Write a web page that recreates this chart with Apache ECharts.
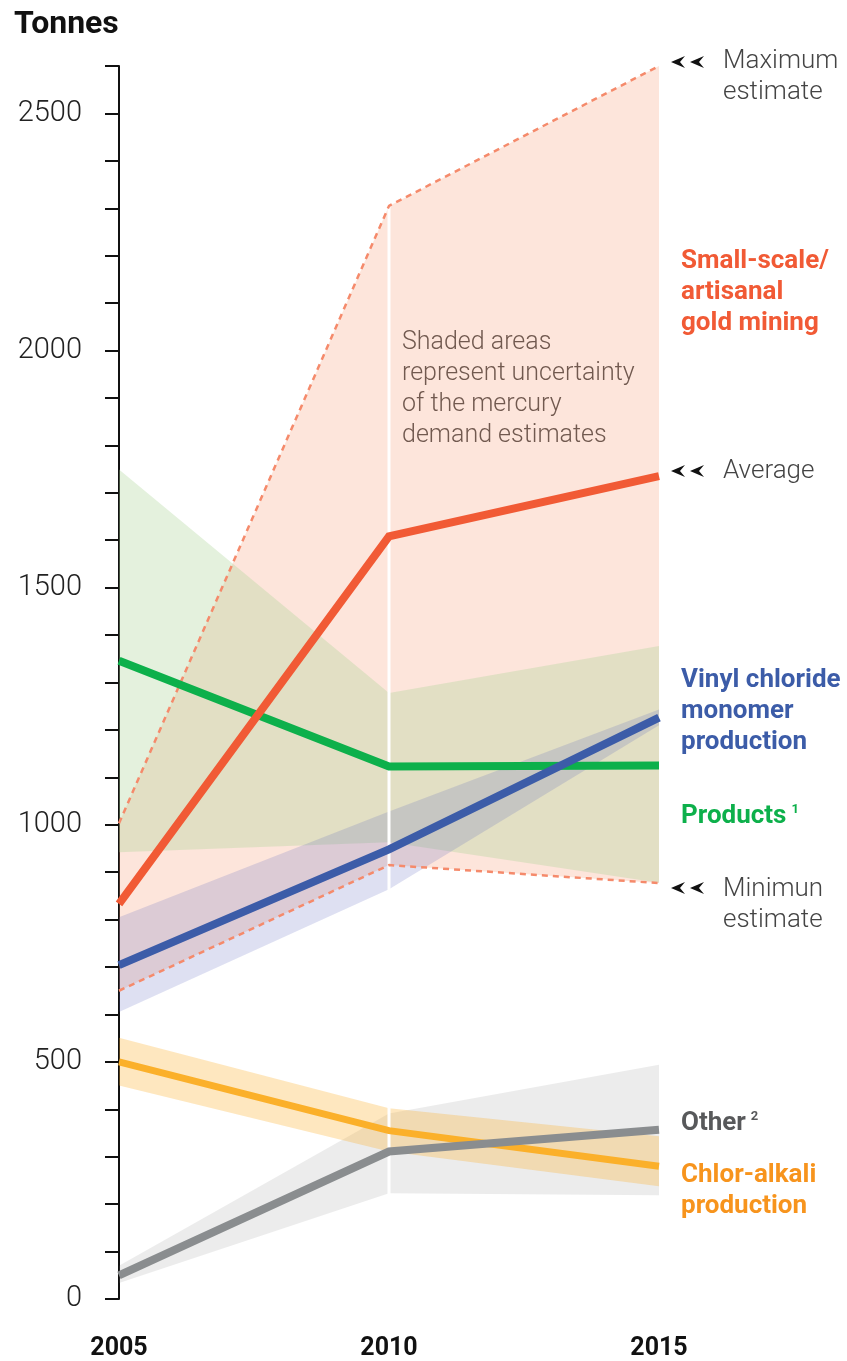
<!DOCTYPE html>
<html>
<head>
<meta charset="utf-8">
<script src="https://cdn.jsdelivr.net/npm/echarts@6/dist/echarts.min.js"></script>
<style>
  html, body { margin: 0; padding: 0; background: #fff; }
  #main { width: 847px; height: 1361px; }
</style>
</head>
<body>
<div id="main"></div>
<script>
// years on the x axis
const years = [2005, 2010, 2015];

// small-scale / artisanal gold mining
const goldAvg = [833, 1608, 1735];
const goldMax = [1003, 2305, 2600];
const goldMin = [650, 915, 877];

// products
const productsAvg = [1346, 1123, 1125];
const productsHigh = [1749, 1278, 1377];
const productsLow = [942, 963, 878];

// vinyl chloride monomer production
const vinylAvg = [704, 948, 1226];
const vinylHigh = [805, 1028, 1243];
const vinylLow = [605, 864, 1210];

// chlor-alkali production
const chlorAvg = [500, 355, 280];
const chlorHigh = [551, 402, 343];
const chlorLow = [450, 311, 238];

// other
const otherAvg = [50, 311, 357];
const otherHigh = [70, 391, 494];
const otherLow = [34, 223, 219];

const yTicks = [0, 500, 1000, 1500, 2000, 2500];

function pairs(vals) {
    return years.map((y, i) => [y, vals[i]]);
}

function band(upper, lower, color) {
    return {
        type: 'custom',
        silent: true,
        z: 1,
        data: [[years[0], 0]],
        renderItem: function (params, api) {
            let top = years.map((y, i) => api.coord([y, upper[i]]));
            let bot = years.map((y, i) => api.coord([y, lower[i]])).reverse();
            return {
                type: 'polygon',
                shape: { points: top.concat(bot) },
                style: { fill: color }
            };
        }
    };
}

function line(vals, color, width) {
    return {
        type: 'line',
        data: pairs(vals),
        symbol: 'none',
        silent: true,
        z: 3,
        lineStyle: { color: color, width: width, cap: 'butt', join: 'miter' }
    };
}

function dashed(vals) {
    return {
        type: 'line',
        data: pairs(vals),
        symbol: 'none',
        silent: true,
        z: 2,
        lineStyle: { color: '#F58A6B', width: 2.5, type: [6, 5] }
    };
}

// white separator at 2010
let separator = {
    type: 'custom',
    silent: true,
    z: 1,
    data: [[2010, 0]],
    renderItem: function (params, api) {
        let a = api.coord([2010, goldMax[1]]);
        let b = api.coord([2010, otherLow[1] - 3]);
        return {
            type: 'line',
            shape: { x1: a[0], y1: a[1], x2: b[0], y2: b[1] },
            style: { stroke: '#fff', lineWidth: 3 }
        };
    }
};

function arrows(y) {
    let out = [];
    [671, 690].forEach(function (x) {
        out.push({
            type: 'polygon',
            shape: { points: [[x, y], [x + 14, y - 6], [x + 9, y], [x + 14, y + 6]] },
            style: { fill: '#111' }
        });
    });
    return out;
}

function txt(x, y, text, size, weight, color, rich) {
    return {
        type: 'text',
        x: x, y: y,
        style: {
            text: text,
            font: weight + ' ' + size + 'px Roboto',
            fill: color,
            verticalAlign: 'middle',
            rich: rich
        }
    };
}

const light = '#444';
let supRich = function (color) {
    return {
        a: { fontSize: 26, fontWeight: 'bold', fontFamily: 'Roboto', color: color },
        b: { fontSize: 13, fontWeight: 'bold', fontFamily: 'Roboto', color: color, verticalAlign: 'top', padding: [0, 0, 0, 5] }
    };
};

let graphics = [
    txt(14, 25, 'Tonnes', 32, 'bold', '#111'),
    txt(723, 61, 'Maximum', 26, 300, light),
    txt(723, 92, 'estimate', 26, 300, light),
    txt(723, 471, 'Average', 26, 300, light),
    txt(723, 889, 'Minimun', 26, 300, light),
    txt(723, 920, 'estimate', 26, 300, light),
    txt(681, 261, 'Small-scale/', 26, 'bold', '#F15A35'),
    txt(681, 292, 'artisanal', 26, 'bold', '#F15A35'),
    txt(681, 323, 'gold mining', 26, 'bold', '#F15A35'),
    txt(681, 680, 'Vinyl chloride', 26, 'bold', '#3C5CA8'),
    txt(681, 711, 'monomer', 26, 'bold', '#3C5CA8'),
    txt(681, 742, 'production', 26, 'bold', '#3C5CA8'),
    txt(681, 816, '{a|Products}{b|1}', 26, 'bold', '#0DB04B', supRich('#0DB04B')),
    txt(681, 1123, '{a|Other}{b|2}', 26, 'bold', '#58595B', supRich('#58595B')),
    txt(681, 1175, 'Chlor-alkali', 26, 'bold', '#F7941D'),
    txt(681, 1206, 'production', 26, 'bold', '#F7941D'),
    txt(402, 343, 'Shaded areas', 25, 300, light),
    txt(402, 374, 'represent uncertainty', 25, 300, light),
    txt(402, 405, 'of the mercury', 25, 300, light),
    txt(402, 436, 'demand estimates', 25, 300, light)
].concat(arrows(62), arrows(471), arrows(888));

let chart = echarts.init(document.getElementById('main'));
let option = {
    animation: false,
    backgroundColor: '#fff',
    grid: { left: 119, right: 188, top: 66, bottom: 56 },
    xAxis: {
        type: 'value',
        min: 2005,
        max: 2015,
        interval: 5,
        axisLine: { show: false },
        axisTick: { show: false },
        splitLine: { show: false },
        axisLabel: {
            margin: 37,
            fontFamily: 'Roboto',
            fontWeight: 'bold',
            fontSize: 25,
            color: '#111',
            formatter: function (v) { return String(v); }
        }
    },
    yAxis: {
        type: 'value',
        min: 0,
        max: 2600,
        interval: 100,
        axisLine: { show: true, lineStyle: { color: '#111', width: 2 } },
        axisTick: { show: true, length: 14, lineStyle: { color: '#111', width: 2 } },
        splitLine: { show: false },
        axisLabel: {
            margin: 37,
            fontFamily: 'Roboto',
            fontWeight: 300,
            fontSize: 29,
            color: '#222',
            formatter: function (v) { return yTicks.indexOf(v) >= 0 ? String(v) : ''; }
        }
    },
    series: [
        band(goldMax, goldMin, 'rgba(248,150,110,0.25)'),
        band(productsHigh, productsLow, 'rgba(170,212,150,0.32)'),
        band(vinylHigh, vinylLow, 'rgba(90,100,190,0.2)'),
        band(otherHigh, otherLow, 'rgba(128,128,128,0.15)'),
        band(chlorHigh, chlorLow, 'rgba(251,176,42,0.3)'),
        separator,
        dashed(goldMax),
        dashed(goldMin),
        line(productsAvg, '#0DB04B', 8),
        line(goldAvg, '#F15A35', 8),
        line(vinylAvg, '#3C5CA8', 8),
        line(chlorAvg, '#FBB02A', 7),
        line(otherAvg, '#8A8D8F', 8)
    ],
    graphic: graphics
};
chart.setOption(option);
</script>
</body>
</html>
